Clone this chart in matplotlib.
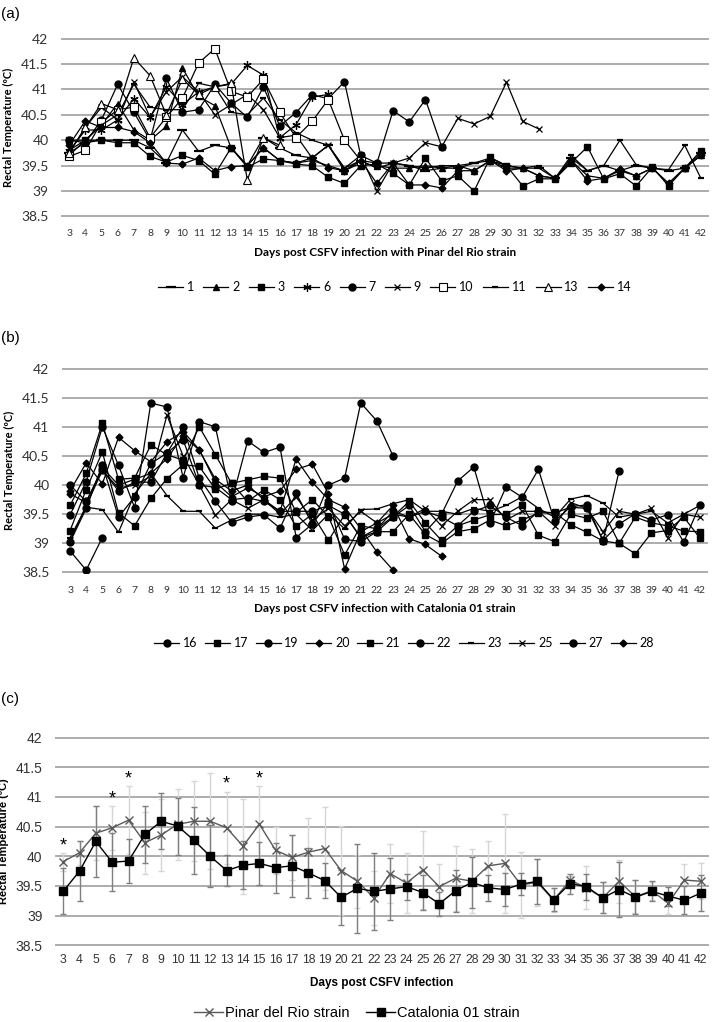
import numpy as np
import matplotlib
matplotlib.use("Agg")
import matplotlib.pyplot as plt

nan = np.nan
days = list(range(3, 43))
yticks = [38.5, 39, 39.5, 40, 40.5, 41, 41.5, 42]

# ---- panel (a): Pinar del Rio strain, individual animals ----
a1 = [39.75, 39.95, 40.0, 40.0, 40.0, 39.85, 39.55, 40.2, 39.78, 39.9,
      39.85, 39.5, 40.05, 39.85, 39.7, 39.65, 39.9, 39.4, 39.6, 39.55,
      39.55, 39.5, 39.4, 39.45, 39.45, 39.55, 39.6, 39.5, 39.45, 39.45,
      39.25, 39.65, 39.4, 39.5, 39.4, 39.5, 39.45, 39.4, 39.45, 39.75]
a2 = [39.7, 40.0, 40.3, 40.72, 40.2, 40.0, 40.27, 41.42, 40.86, 40.68,
      39.85, 39.5, 39.85, 39.6, 39.55, 39.6, 39.5, 39.4, 39.55, 39.5,
      39.45, 39.45, 39.5, 39.45, 39.5, 39.4, 39.6, 39.45, 39.45, 39.3,
      39.25, 39.6, 39.3, 39.25, 39.4, 39.3, 39.45, 39.15, 39.45, 39.7]
a3 = [40.0, 40.0, 40.0, 39.95, 39.95, 39.68, 39.57, 39.7, 39.6, 39.33,
      39.85, 39.47, 39.63, 39.6, 39.53, 39.5, 39.27, 39.15, 39.5, 39.53,
      39.35, 39.12, 39.65, 39.2, 39.3, 39.0, 39.66, 39.5, 39.1, 39.24,
      39.24, 39.56, 39.87, 39.24, 39.34, 39.1, 39.47, 39.1, 39.45, 39.79]
a6 = [39.78, 40.2, 40.2, 40.4, 40.82, 40.45, 41.05, 40.7, 40.95, 41.05,
      41.1, 41.47, 41.28, 40.05, 40.3, 40.85, 40.9] + [nan] * 23
a7 = [40.0, 39.95, 40.4, 41.1, 40.55, 40.0, 41.22, 40.55, 40.6, 41.1,
      40.73, 40.45, 41.05, 40.28, 40.54, 40.89, 40.82, 41.15, 39.7, 39.55,
      40.58, 40.36, 40.8, 39.87] + [nan] * 16
a9 = [39.75, 40.25, 40.65, 40.4, 41.15, 40.45, 40.95, 41.25, 40.95, 40.5,
      40.7, 40.9, 40.6, 40.05, 40.1, 39.65, 39.9, 39.45, 39.7, 39.0,
      39.55, 39.65, 39.95, 39.87, 40.43, 40.32, 40.47, 41.14, 40.37, 40.22] + [nan] * 10
a10 = [39.68, 39.8, 40.35, 40.6, 40.65, 40.05, 40.45, 40.83, 41.52, 41.8,
       40.96, 40.85, 41.2, 40.55, 40.05, 40.37, 40.8, 40.0, 39.6] + [nan] * 21
a11 = [39.8, 40.0, 40.3, 40.5, 41.1, 40.65, 40.6, 40.6, 41.12, 41.05,
       40.55, 40.5, 40.83, 40.4, 40.15, 40.0, 39.9, 39.45, 39.6, 39.45,
       39.55, 39.5, 39.45, 39.5, 39.5, 39.55, 39.65, 39.5, 39.45, 39.5,
       39.25, 39.7, 39.4, 39.5, 40.0, 39.52, 39.45, 39.42, 39.9, 39.25]
a13 = [39.75, 40.25, 40.72, 40.6, 41.62, 41.27, 40.5, 41.2, 40.9, 41.05,
       41.12, 39.22, 40.05, 39.9] + [nan] * 26
a14 = [39.9, 40.38, 40.25, 40.25, 40.17, 39.95, 39.55, 39.53, 39.65, 39.4,
       39.48, 39.5, 39.85, 39.6, 39.55, 39.65, 39.46, 39.4, 39.6, 39.15,
       39.55, 39.12, 39.12, 39.06, 39.4, 39.4, 39.6, 39.4, 39.45, 39.3,
       39.25, 39.6, 39.2, 39.25, 39.43, 39.3, 39.45, 39.15, 39.45, 39.7]

# ---- panel (b): Catalonia 01 strain, individual animals ----
b16 = [38.87, 38.54, 39.1] + [nan] * 37
b17 = [39.65, 40.2, 41.06, 40.1, 40.12, 40.69, 40.52, 40.43, 41.0, 40.52,
       40.03, 40.09, 40.15, 40.12, 39.53, 39.75, 39.46, 38.8, 39.3, 39.25,
       39.46, 39.72, 39.35, 39.05, 39.3, 39.4, 39.49, 39.5, 39.66, 39.14,
       39.03, 39.5, 39.43, 39.55, 39.0, 38.82, 39.18, 39.22, 39.45, 39.09]
b19 = [40.0, 39.72, 40.26, 39.9, 40.05, 40.05, 40.55, 40.78, 40.0, 39.96,
       39.75, 39.78, 39.72, 39.55, 39.55, 39.55, 39.65, 39.5, 39.1, 39.25,
       39.55, 39.45, 39.55, 39.45, 39.3, 39.55, 39.65, 39.45, 39.3, 39.55,
       39.52, 39.62, 39.6, 39.05, 39.33, 39.51, 39.4, 39.49, 39.02, 39.66]
b20 = [39.9, 40.38, 40.02, 40.82, 40.59, 40.4, 40.74, 40.92, 40.61, 40.05,
       39.8, 39.95, 39.8, 39.9, 40.27, 40.36, 39.85, 38.56, 39.2, 39.35,
       39.65, 39.08, 38.98, 38.78] + [nan] * 16
b21 = [39.22, 39.92, 40.57, 39.52, 39.3, 39.77, 40.11, 40.35, 40.32, 39.93,
       40.03, 39.72, 39.92, 39.75, 39.29, 39.5, 39.05, 39.49, 39.1, 39.2,
       39.2, 39.5, 39.15, 39.0, 39.2, 39.25, 39.4, 39.3, 39.4, 39.52,
       39.53, 39.32, 39.19, 39.04, 39.0, 39.45, 39.35, 39.3, 39.21, 39.2]
b22 = [39.49, 40.06, 41.0, 40.34, 39.61, 41.41, 41.34, 40.13, 41.09, 41.0,
       39.72, 40.76, 40.56, 40.65, 39.1, 39.33, 40.0, 40.12, 41.41, 41.1,
       40.5] + [nan] * 19
b23 = [39.1, 39.62, 39.58, 39.19, 39.85, 40.2, 39.82, 39.55, 39.55, 39.26,
       39.4, 39.5, 39.5, 39.45, 39.5, 39.22, 39.5, 39.25, 39.58, 39.59,
       39.68, 39.75, 39.55, 39.55, 39.5, 39.6, 39.55, 39.65, 39.8, 39.6,
       39.45, 39.76, 39.82, 39.69, 39.45, 39.5, 39.55, 39.35, 39.5, 39.65]
b25 = [39.05, 39.65, 40.25, 39.95, 40.0, 40.15, 41.2, 40.5, 40.0, 39.48,
       39.75, 39.6, 39.75, 39.5, 39.8, 39.4, 39.6, 39.3, 39.55, 39.35,
       39.5, 39.45, 39.6, 39.3, 39.55, 39.75, 39.75, 39.4, 39.55, 39.55,
       39.3, 39.7, 39.6, 39.2, 39.55, 39.5, 39.6, 39.1, 39.5, 39.45]
b27 = [39.02, 39.6, 40.35, 39.45, 39.8, 40.37, 40.55, 41.0, 40.12, 39.72,
       39.36, 39.45, 39.49, 39.26, 39.86, 39.33, 39.7, 39.07, 39.03, 39.2,
       39.45, 39.65, 39.2, 39.5, 40.07, 40.31, 39.35, 39.97, 39.79, 40.27,
       39.38, 39.63, 39.66, 39.04, 40.25] + [nan] * 5
b28 = [39.85, 39.7, 40.3, 40.0, 40.1, 40.2, 40.45, 40.85, 40.6, 40.1,
       39.9, 40.0, 39.75, 39.55, 40.45, 40.05, 39.75, 39.62, 39.25, 38.85,
       38.54] + [nan] * 19

# ---- panel (c): group means +/- SD ----
pinar_mean = [39.91, 40.06, 40.39, 40.48, 40.61, 40.23, 40.36, 40.54, 40.59, 40.59,
              40.48, 40.17, 40.54, 40.1, 39.98, 40.07, 40.13, 39.76, 39.58, 39.3,
              39.71, 39.55, 39.77, 39.49, 39.63, 39.58, 39.84, 39.88, 39.52, 39.56,
              39.26, 39.6, 39.47, 39.3, 39.58, 39.32, 39.42, 39.21, 39.6, 39.58]
pinar_sd = [0.15, 0.2, 0.45, 0.37, 0.57, 0.52, 0.61, 0.6, 0.67, 0.81,
            0.61, 0.8, 0.65, 0.4, 0.38, 0.57, 0.7, 0.75, 0.45, 0.45,
            0.5, 0.5, 0.66, 0.38, 0.55, 0.54, 0.42, 0.84, 0.56, 0.4,
            0.2, 0.06, 0.36, 0.26, 0.36, 0.28, 0.15, 0.18, 0.27, 0.3]
cat_mean = [39.41, 39.75, 40.25, 39.9, 39.92, 40.37, 40.59, 40.51, 40.27, 40.0,
            39.76, 39.85, 39.88, 39.81, 39.84, 39.72, 39.59, 39.31, 39.46, 39.41,
            39.45, 39.49, 39.39, 39.2, 39.42, 39.56, 39.47, 39.44, 39.53, 39.58,
            39.27, 39.54, 39.49, 39.3, 39.44, 39.31, 39.41, 39.33, 39.26, 39.38]
cat_sd = [0.39, 0.5, 0.6, 0.49, 0.37, 0.48, 0.47, 0.48, 0.56, 0.52,
          0.26, 0.4, 0.36, 0.42, 0.52, 0.42, 0.29, 0.46, 0.75, 0.65,
          0.52, 0.22, 0.29, 0.2, 0.35, 0.43, 0.22, 0.28, 0.19, 0.38,
          0.19, 0.17, 0.22, 0.26, 0.46, 0.29, 0.17, 0.16, 0.24, 0.3]
signif_days = [3, 6, 7, 13, 15]

FONT_AB = "Lato"
FONT_C = "Liberation Sans"
GRID = "#a6a6a6"


def style_axes(ax, font, xsize, ysize, xpad):
    ax.set_xlim(2.5, 42.5)
    ax.set_ylim(38.49, 42.01)
    ax.set_yticks(yticks)
    ax.set_yticklabels(["%g" % v for v in yticks], family=font, fontsize=ysize, color="#333333")
    ax.set_xticks(days)
    ax.set_xticklabels([str(d) for d in days], family=font, fontsize=xsize, color="#333333")
    ax.yaxis.grid(True, color=GRID, lw=1.3)
    ax.set_axisbelow(True)
    for s in ax.spines.values():
        s.set_visible(False)
    ax.tick_params(length=0, axis="y", pad=9)
    ax.tick_params(length=0, axis="x", pad=xpad)


fig = plt.figure(figsize=(7.14, 10.22), dpi=100)

# ---------- (a) ----------
ax1 = fig.add_axes([0.0854, 0.7877, 0.9076, 0.1751])
style_axes(ax1, FONT_AB, 7.5, 10, 9)
lw = 0.9
ax1.plot(days, a1, color="k", lw=lw, marker="_", ms=7, mew=1.6, label="1")
ax1.plot(days, a2, color="k", lw=lw, marker="^", ms=5, label="2")
ax1.plot(days, a3, color="k", lw=lw, marker="s", ms=5, label="3")
ax1.plot(days, a6, color="k", lw=lw, marker=(6, 2, 0), ms=6, mew=0.9, label="6")
ax1.plot(days, a7, color="k", lw=lw, marker="o", ms=5, label="7")
ax1.plot(days, a9, color="k", lw=lw, marker="x", ms=5, mew=0.9, label="9")
ax1.plot(days, a10, color="k", lw=lw, marker="s", ms=5.5, mfc="white", mew=0.8, label="10")
ax1.plot(days, a11, color="k", lw=lw, marker="_", ms=4, mew=1.6, label="11")
ax1.plot(days, a13, color="k", lw=lw, marker="^", ms=5.5, mfc="white", mew=0.8, label="13")
ax1.plot(days, a14, color="k", lw=lw, marker="D", ms=3.5, label="14")
ax1.set_ylabel("Rectal Temperature (ºC)", family=FONT_AB, fontsize=8, fontweight="bold", labelpad=5)
ax1.set_xlabel("Days post CSFV infection with Pinar del Rio strain", family=FONT_AB,
               fontsize=8.5, fontweight="bold", labelpad=6)
h, l = ax1.get_legend_handles_labels()
fig.legend(h, l, loc="center", bbox_to_anchor=(0.553, 0.7192), ncol=10, frameon=False,
           prop={"family": FONT_AB, "size": 9}, handlelength=2.0, handletextpad=0.3,
           columnspacing=0.75)
fig.text(0.002, 0.993, "(a)", fontsize=11, family="Liberation Sans", va="top", ha="left")

# ---------- (b) ----------
ax2 = fig.add_axes([0.0868, 0.4393, 0.9048, 0.2006])
style_axes(ax2, FONT_AB, 7.5, 10, 9)
ax2.plot(days, b16, color="k", lw=lw, marker="o", ms=5, label="16")
ax2.plot(days, b17, color="k", lw=lw, marker="s", ms=5, label="17")
ax2.plot(days, b19, color="k", lw=lw, marker="o", ms=5, label="19")
ax2.plot(days, b20, color="k", lw=lw, marker="D", ms=3.5, label="20")
ax2.plot(days, b21, color="k", lw=lw, marker="s", ms=5, label="21")
ax2.plot(days, b22, color="k", lw=lw, marker="o", ms=5, label="22")
ax2.plot(days, b23, color="k", lw=lw, marker="_", ms=5, mew=1.6, label="23")
ax2.plot(days, b25, color="k", lw=lw, marker="x", ms=5, mew=0.9, label="25")
ax2.plot(days, b27, color="k", lw=lw, marker="o", ms=5, label="27")
ax2.plot(days, b28, color="k", lw=lw, marker="D", ms=3.5, label="28")
ax2.set_ylabel("Rectal Temperature (ºC)", family=FONT_AB, fontsize=8, fontweight="bold", labelpad=5)
ax2.set_xlabel("Days post CSFV infection with Catalonia 01 strain", family=FONT_AB,
               fontsize=8.5, fontweight="bold", labelpad=6)
h, l = ax2.get_legend_handles_labels()
fig.legend(h, l, loc="center", bbox_to_anchor=(0.566, 0.3708), ncol=10, frameon=False,
           prop={"family": FONT_AB, "size": 9}, handlelength=2.0, handletextpad=0.3,
           columnspacing=0.6)
fig.text(0.002, 0.676, "(b)", fontsize=11, family="Liberation Sans", va="top", ha="left")

# ---------- (c) ----------
ax3 = fig.add_axes([0.077, 0.0744, 0.916, 0.2045])
style_axes(ax3, FONT_C, 8.8, 10, 6)
ax3.errorbar(days, pinar_mean, yerr=pinar_sd, fmt="none", ecolor="#d6d6d6", elinewidth=1,
             capsize=2.5, capthick=1, zorder=2)
ax3.errorbar(days, cat_mean, yerr=cat_sd, fmt="none", ecolor="#7f7f7f", elinewidth=1,
             capsize=2.5, capthick=1, zorder=3)
ax3.plot(days, pinar_mean, color="#595959", lw=1.0, marker="x", ms=6, mew=1.0,
         label="Pinar del Rio strain", zorder=4)
ax3.plot(days, cat_mean, color="k", lw=1.0, marker="s", ms=6, label="Catalonia 01 strain", zorder=5)
for d in signif_days:
    i = days.index(d)
    ax3.text(d, pinar_mean[i] + pinar_sd[i] + 0.12, "*", ha="center", va="center",
             fontsize=13, family=FONT_C)
ax3.set_ylabel("Rectal Temperature (ºC)", family=FONT_C, fontsize=8, fontweight="bold", labelpad=5)
ax3.set_xlabel("Days post CSFV infection", family=FONT_C, fontsize=8.5, fontweight="bold", labelpad=8)
h, l = ax3.get_legend_handles_labels()
fig.legend(h, l, loc="center", bbox_to_anchor=(0.5, 0.009), ncol=2, frameon=False,
           prop={"family": FONT_C, "size": 10.5}, handlelength=2.0, handletextpad=0.15,
           columnspacing=1.1)
fig.text(0.002, 0.323, "(c)", fontsize=11, family="Liberation Sans", va="top", ha="left")

fig.savefig("out.png", dpi=100)
